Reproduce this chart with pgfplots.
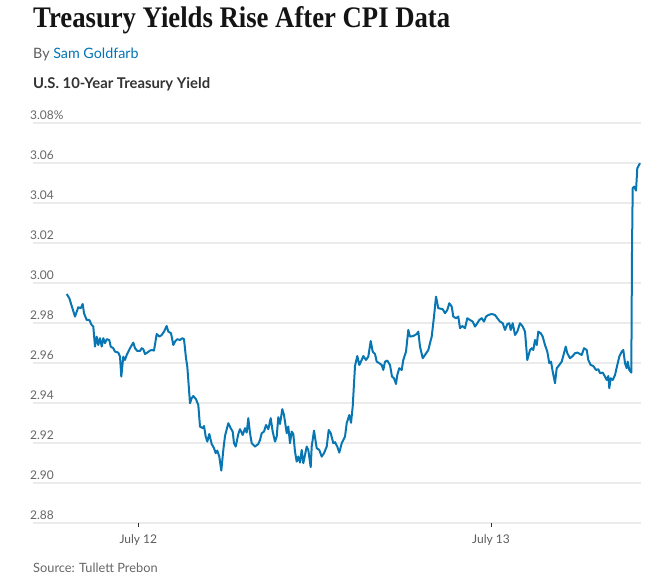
\documentclass[border=0pt]{standalone}
\usepackage{pgfplots}
\pgfplotsset{compat=1.18}
\usepackage{graphicx}
\usepackage{fontspec}
\setmainfont{Lato}
\newfontfamily\titlefont{Liberation Serif}
\definecolor{wsjblue}{RGB}{8,118,178}
\definecolor{bylineblue}{RGB}{2,116,182}
\definecolor{gridgray}{RGB}{235,235,235}
\definecolor{labgray}{RGB}{102,102,102}
\definecolor{subdark}{RGB}{51,51,51}
\begin{document}
\begin{tikzpicture}
\path[use as bounding box] (0,0) rectangle (662bp,584bp);
\node[anchor=base west, inner sep=0pt, text=black!92] at (33bp,556bp)
  {\resizebox{417bp}{21bp}{\titlefont\bfseries Treasury Yields Rise After CPI Data}};
\node[anchor=base west, inner sep=0pt] at (33bp,525bp)
  {\fontsize{14.3bp}{17bp}\selectfont\textcolor{labgray!90!black}{By} \textcolor{bylineblue}{Sam Goldfarb}};
\node[anchor=base west, inner sep=0pt, text=subdark] at (33bp,495bp)
  {\fontsize{14.8bp}{17bp}\selectfont\bfseries U.S. 10-Year Treasury Yield};
\node[anchor=base west, inner sep=0pt, text=labgray] at (33bp,12bp)
  {\fontsize{12.8bp}{16bp}\selectfont Source: Tullett Prebon};
\begin{axis}[
  at={(33bp,61bp)}, anchor=south west,
  scale only axis, width=608bp, height=400bp,
  xmin=33, xmax=641, ymin=2.88, ymax=3.08,
  axis line style={draw=none},
  ytick={2.88,2.90,2.92,2.94,2.96,2.98,3.00,3.02,3.04,3.06,3.08},
  yticklabels={2.88,2.90,2.92,2.94,2.96,2.98,3.00,3.02,3.04,3.06,3.08\%},
  ymajorgrids,
  grid style={line width=1.5bp, color=gridgray},
  ytick style={draw=none},
  yticklabel style={anchor=south west, inner sep=0pt, xshift=1bp, yshift=3bp,
    font=\fontsize{12bp}{14bp}\selectfont, text=labgray},
  xtick={138.3,491},
  xticklabels={July 12, July 13},
  xtick pos=bottom, ytick pos=left,
  tick align=outside,
  major tick length=4bp,
  xtick style={draw=black!80, line width=0.8bp},
  xticklabel style={font=\fontsize{12bp}{14bp}\selectfont, text=labgray!90!black, yshift=-4bp},
  clip=false,
]
\addplot[wsjblue, line width=2bp, line join=round] coordinates {
(66.7,2.9945)(69.3,2.9924)(72.7,2.9869)(75,2.9832)(78.3,2.9879)(80.7,2.9874)(82.7,2.9895)(84,2.9849)
(86.7,2.9815)(89.3,2.9815)(91.7,2.979)(93.3,2.9782)(95,2.9682)(96.7,2.9732)(98.3,2.969)(100,2.9724)
(101.7,2.9682)(103.3,2.9724)(105,2.9699)(106.7,2.9719)(109.3,2.9715)(110.7,2.9682)(113.3,2.9674)
(115,2.9657)(118.3,2.9652)(120,2.9632)(121.3,2.9532)(123.3,2.9632)(125,2.9615)(126.7,2.964)
(130,2.9674)(133.3,2.9702)(135,2.9674)(137.3,2.966)(140,2.966)(141.7,2.9674)(143.3,2.9669)
(145,2.9645)(147.3,2.9652)(150,2.9662)(151.7,2.9665)(154,2.9662)(156.7,2.9745)(159.3,2.9732)
(161.7,2.974)(164,2.9757)(166.7,2.9785)(168.3,2.9757)(171,2.9749)(173.3,2.969)(175,2.9707)
(177.3,2.9719)(180,2.9715)(182.3,2.9724)(184,2.9719)(186,2.9624)(187.3,2.9582)(190,2.9399)
(191.7,2.9424)(193.3,2.9435)(196,2.9419)(198.3,2.939)(200,2.9282)(202.7,2.9274)(204,2.9285)
(205.7,2.9232)(207.3,2.9207)(209.3,2.9245)(211.7,2.9195)(214,2.9174)(215.7,2.9149)(217.3,2.9162)
(219.3,2.9132)(221.3,2.9062)(223.3,2.9165)(225,2.9235)(228.3,2.9299)(230.7,2.9274)(232.7,2.9257)
(234,2.9199)(235.7,2.9182)(238.3,2.9245)(240,2.9269)(242.7,2.924)(245,2.9274)(246.7,2.9252)
(248.3,2.9324)(250,2.9249)(251.7,2.9199)(255,2.9182)(258.3,2.9195)(260,2.9215)(261.7,2.9249)
(264,2.9257)(266,2.929)(268.3,2.9269)(270.7,2.9324)(272.7,2.9257)(275,2.9207)(276.7,2.9232)
(278.3,2.9329)(280,2.9295)(282.3,2.9369)(284,2.934)(286.7,2.9249)(288.3,2.9282)(290,2.9199)
(291.7,2.9257)(293.3,2.9245)(295,2.9157)(296.7,2.9107)(298.3,2.9132)(300,2.9102)(301.7,2.9165)
(303.3,2.9099)(305,2.914)(306.7,2.9182)(308.3,2.9165)(310.7,2.9079)(311.7,2.9182)(314,2.9262)
(316.7,2.9174)(319.3,2.9165)(321.7,2.9132)(324,2.9149)(326.7,2.9182)(328.7,2.9265)(330.7,2.9249)
(333.3,2.9199)(335,2.9204)(337.3,2.9182)(339.3,2.9152)(341.7,2.9199)(345,2.9232)(346.7,2.9299)
(349.3,2.934)(351,2.9301)(352.7,2.9382)(355,2.9585)(357.3,2.9635)(359.3,2.959)(361.7,2.9615)
(363.3,2.9635)(366,2.9615)(368.3,2.9632)(370.7,2.971)(372.7,2.9657)(375,2.9645)(376.7,2.9607)
(379.3,2.9599)(381.7,2.959)(383.3,2.9565)(385,2.9607)(387.3,2.9612)(390,2.959)(392,2.9532)
(394,2.9524)(396,2.9495)(397.3,2.954)(399.3,2.9574)(401.7,2.9565)(403.3,2.9615)(406,2.9657)
(408.3,2.9765)(410,2.9732)(413.3,2.9735)(416.7,2.9745)(418.3,2.9757)(420,2.9682)(422.7,2.9624)
(425,2.964)(428.3,2.9665)(431.7,2.9732)(434,2.9832)(436,2.9932)(438.3,2.9874)(442.7,2.9869)
(445,2.9849)(447.3,2.9865)(449.3,2.9899)(451.7,2.9882)(453.3,2.9832)(456,2.9824)(458.3,2.9832)
(460,2.9774)(462.3,2.9785)(465,2.9774)(467.3,2.9824)(470,2.9815)(472.7,2.9807)(475,2.9782)
(477.3,2.9799)(479.3,2.9815)(481.7,2.9824)(484,2.9807)(486,2.9832)(488.3,2.984)(491.7,2.9845)
(495,2.984)(497.3,2.9824)(500,2.9807)(502.7,2.9799)(505,2.9765)(507.3,2.9795)(509.3,2.9799)
(510.7,2.9765)(512.7,2.9799)(515,2.974)(517.3,2.9757)(520,2.9799)(522.7,2.9782)(525,2.9757)
(527.3,2.9615)(530,2.9665)(531.7,2.9674)(533.3,2.9665)(535,2.9715)(536.7,2.969)(538.3,2.9757)
(540.7,2.9749)(542.7,2.9732)(545,2.969)(547.3,2.9657)(549.3,2.9599)(551,2.9607)(552.7,2.9557)
(555,2.9499)(556.7,2.9574)(559.3,2.959)(561.7,2.9607)(564,2.9649)(565.7,2.9682)(567.3,2.9649)
(570,2.9624)(572.7,2.9635)(575,2.9649)(577.3,2.9652)(580,2.9645)(581.7,2.964)(584,2.9674)
(586.7,2.9665)(588.3,2.9615)(590.7,2.959)(593.3,2.9585)(596,2.9565)(598.3,2.9569)(600,2.9549)
(602.7,2.9552)(605,2.9532)(606.7,2.9515)(608.3,2.9535)(609.3,2.9474)(610.7,2.9524)(612.7,2.9515)
(615,2.954)(617.3,2.959)(619.3,2.9632)(621.7,2.9657)(623.3,2.9665)(625,2.9599)(626.7,2.9574)
(627.7,2.9607)(629.3,2.9565)(631.3,2.9552)(632,3.0165)(632.7,3.0474)(634.3,3.0482)(636,3.0462)
(637.3,3.0574)(640,3.0599)
};
\end{axis}
\end{tikzpicture}
\end{document}
